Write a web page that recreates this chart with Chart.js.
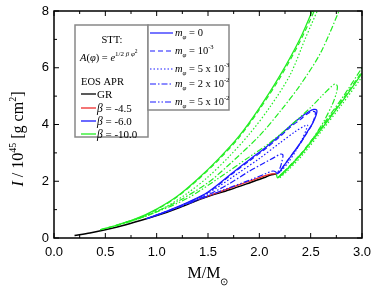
<!DOCTYPE html>
<html>
<head>
<meta charset="utf-8">
<script src="https://cdn.jsdelivr.net/npm/chart.js@4.4.0/dist/chart.umd.min.js"></script>
<style>
html, body { margin: 0; padding: 0; background: #fff; }
</style>
</head>
<body>
<canvas id="c" width="374" height="290"></canvas>
<script>
// axis ticks
const xTicks = [0, 0.5, 1.0, 1.5, 2.0, 2.5, 3.0];
const yTicks = [0, 2, 4, 6, 8];

// GR, EOS APR
const grM = [0.2, 0.35, 0.5, 0.7, 0.9, 1.1, 1.23, 1.45, 1.71, 1.91, 2.05, 2.1, 2.17];
const grI = [0.09, 0.18, 0.29, 0.47, 0.68, 0.91, 1.08, 1.4, 1.7, 1.95, 2.13, 2.21, 2.26];

// beta = -4.5
const redM = [1.4, 1.6, 1.8, 1.95, 2.05, 2.12, 2.16];
const redI = [1.35, 1.61, 1.87, 2.06, 2.19, 2.26, 2.26];

// beta = -6.0, one array pair per scalar mass
const blue0M = [0.9, 1.1, 1.3, 1.5, 1.74, 1.9, 2.07, 2.2, 2.3, 2.4, 2.48, 2.53, 2.56, 2.555, 2.52, 2.46, 2.4, 2.32, 2.25, 2.2, 2.17];
const blue0I = [0.68, 0.95, 1.25, 1.62, 2.3, 2.75, 3.22, 3.62, 3.95, 4.25, 4.45, 4.53, 4.5, 4.35, 4.05, 3.7, 3.35, 2.95, 2.6, 2.35, 2.26];
const blue1M = [0.9, 1.1, 1.3, 1.5, 1.74, 1.9, 2.07, 2.2, 2.3, 2.4, 2.47, 2.52, 2.545, 2.54, 2.51, 2.45, 2.39, 2.31, 2.24, 2.2, 2.17];
const blue1I = [0.68, 0.94, 1.24, 1.6, 2.27, 2.71, 3.17, 3.57, 3.9, 4.18, 4.38, 4.46, 4.43, 4.28, 3.98, 3.62, 3.28, 2.9, 2.56, 2.33, 2.26];
const blue2M = [0.95, 1.2, 1.5, 1.8, 2.0, 2.2, 2.35, 2.44, 2.47, 2.46, 2.42, 2.36, 2.28, 2.22, 2.17];
const blue2I = [0.74, 1.08, 1.58, 2.3, 2.8, 3.35, 3.75, 3.95, 3.98, 3.85, 3.5, 3.1, 2.65, 2.4, 2.26];
const blue3M = [1.0, 1.25, 1.5, 1.7, 1.9, 2.05, 2.15, 2.21, 2.23, 2.22, 2.2, 2.17];
const blue3I = [0.8, 1.13, 1.52, 1.9, 2.35, 2.65, 2.85, 2.96, 2.92, 2.7, 2.45, 2.26];
const blue4M = [1.3, 1.5, 1.7, 1.9, 2.05, 2.13, 2.16, 2.17];
const blue4I = [1.2, 1.48, 1.76, 2.03, 2.25, 2.36, 2.33, 2.26];

// beta = -10.0, left arm (leaves the frame at the top) and right arm
const green0M = [0.45, 0.6, 0.8, 1.0, 1.2, 1.4, 1.6, 1.8, 2.0, 2.2, 2.4, 2.55];
const green0I = [0.29, 0.44, 0.68, 1.02, 1.47, 2.08, 2.78, 3.58, 4.58, 5.72, 7.05, 8.3];
const green1M = [0.45, 0.6, 0.8, 1.0, 1.2, 1.4, 1.6, 1.8, 2.0, 2.2, 2.4, 2.56];
const green1I = [0.29, 0.44, 0.67, 1.0, 1.45, 2.05, 2.74, 3.53, 4.52, 5.64, 6.95, 8.2];
const green2M = [0.5, 0.7, 0.9, 1.1, 1.3, 1.5, 1.7, 1.9, 2.1, 2.3, 2.45, 2.6];
const green2I = [0.33, 0.53, 0.78, 1.12, 1.58, 2.15, 2.85, 3.65, 4.6, 5.75, 7.05, 8.3];
const green3M = [0.6, 0.9, 1.2, 1.5, 1.71, 2.0, 2.2, 2.4, 2.6, 2.8];
const green3I = [0.42, 0.78, 1.28, 1.95, 2.6, 3.6, 4.45, 5.4, 6.55, 8.2];
const green4M = [0.7, 1.0, 1.3, 1.6, 1.9, 2.1, 2.3, 2.5, 2.62, 2.7, 2.74, 2.76, 2.75, 2.71, 2.62, 2.52, 2.42, 2.32, 2.24, 2.19];
const green4I = [0.56, 0.92, 1.4, 2.1, 2.85, 3.35, 3.95, 4.6, 5.05, 5.33, 5.43, 5.35, 5.1, 4.7, 4.06, 3.5, 3.0, 2.6, 2.3, 2.14];

const green0RM = [2.165, 2.18, 2.25, 2.4, 2.6, 2.8, 3.0, 3.05];
const green0RI = [2.25, 2.12, 2.35, 2.92, 3.82, 4.78, 5.8, 6.05];
const green1RM = [2.18, 2.25, 2.4, 2.6, 2.8, 3.0, 3.05];
const green1RI = [2.13, 2.37, 2.95, 3.86, 4.83, 5.86, 6.1];
const green2RM = [2.2, 2.27, 2.42, 2.6, 2.8, 3.0, 3.05];
const green2RI = [2.12, 2.35, 2.92, 3.74, 4.68, 5.68, 5.95];
const green3RM = [2.2, 2.3, 2.45, 2.6, 2.8, 3.0, 3.05];
const green3RI = [2.2, 2.55, 3.15, 3.9, 4.9, 6.0, 6.3];

const BLUE = '#1a1aff';
const GREEN = '#22ee22';
const RED = '#ee2a2a';
const DASH = [[], [5, 3], [1.5, 2], [6, 2, 1.5, 2], [6, 2, 1.5, 2, 1.5, 2]];
const SERIF = '"Liberation Serif", "Times New Roman", serif';

function series(M, I, color, dash, width) {
    return {
        data: M.map((m, i) => ({ x: m, y: I[i] })),
        borderColor: color,
        borderDash: dash,
        borderWidth: width,
        showLine: true,
        pointRadius: 0,
        tension: 0.3,
        fill: false,
    };
}

// first dataset ends up on top
const datasets = [
    series(green0M, green0I, GREEN, DASH[0], 1.3),
    series(green1M, green1I, GREEN, DASH[1], 1.2),
    series(green2M, green2I, GREEN, DASH[2], 1.2),
    series(green3M, green3I, GREEN, DASH[3], 1.2),
    series(green4M, green4I, GREEN, DASH[4], 1.2),
    series(green0RM, green0RI, GREEN, DASH[0], 1.3),
    series(green1RM, green1RI, GREEN, DASH[1], 1.2),
    series(green2RM, green2RI, GREEN, DASH[2], 1.2),
    series(green3RM, green3RI, GREEN, DASH[3], 1.2),
    series(blue0M, blue0I, BLUE, DASH[0], 1.3),
    series(blue1M, blue1I, BLUE, DASH[1], 1.2),
    series(blue2M, blue2I, BLUE, DASH[2], 1.2),
    series(blue3M, blue3I, BLUE, DASH[3], 1.2),
    series(blue4M, blue4I, BLUE, DASH[4], 1.2),
    series(redM, redI, RED, DASH[0], 1.3),
    series(grM, grI, '#000', DASH[0], 1.5),
];

// draws a run of text pieces [text, font, dy]
function rich(ctx, x, y, parts, center) {
    let w = 0;
    parts.forEach((p) => { ctx.font = p[1]; w += ctx.measureText(p[0]).width; });
    let cx = center ? x - w / 2 : x;
    parts.forEach((p) => {
        ctx.font = p[1];
        ctx.fillText(p[0], cx, y + (p[2] || 0));
        cx += ctx.measureText(p[0]).width;
    });
}

function seg(ctx, x1, y1, x2, y2) {
    ctx.beginPath();
    ctx.moveTo(x1, y1);
    ctx.lineTo(x2, y2);
    ctx.stroke();
}

const framePlugin = {
    id: 'frame',
    afterDraw(chart) {
        const { ctx, chartArea: a, scales: { x, y } } = chart;
        ctx.save();
        ctx.strokeStyle = '#000';
        ctx.lineWidth = 1;
        // inward ticks on all four sides, minor halfway
        for (let k = 0; k <= 12; k++) {
            const px = x.getPixelForValue(k * 0.25);
            const len = k % 2 === 0 ? 5 : 3;
            seg(ctx, px, a.bottom, px, a.bottom - len);
            seg(ctx, px, a.top, px, a.top + len);
        }
        for (let k = 0; k <= 8; k++) {
            const py = y.getPixelForValue(k);
            const len = k % 2 === 0 ? 5 : 3;
            seg(ctx, a.left, py, a.left + len, py);
            seg(ctx, a.right, py, a.right - len, py);
        }
        ctx.lineWidth = 1.5;
        ctx.strokeRect(a.left, a.top, a.right - a.left, a.bottom - a.top);

        // legend boxes
        ctx.fillStyle = '#fff';
        ctx.strokeStyle = '#888';
        ctx.lineWidth = 1.5;
        ctx.fillRect(75, 25, 73, 112);
        ctx.strokeRect(75, 25, 73, 112);
        ctx.fillRect(148, 25, 81, 85);
        ctx.strokeRect(148, 25, 81, 85);

        ctx.fillStyle = '#000';
        ctx.textBaseline = 'alphabetic';
        const f = (s, it) => (it ? 'italic ' : '') + s + 'px ' + SERIF;
        rich(ctx, 112, 43, [['STT:', f(10.5)]], true);
        rich(ctx, 80, 61, [
            ['A', f(10.5, 1)], ['(', f(10.5)], ['φ', f(10.5, 1)], [') = ', f(10.5)], ['e', f(10.5, 1)],
            ['1/2 ', f(7), -5], ['β', f(7, 1), -5], [' φ', f(7, 1), -5], ['2', f(5.5), -8],
        ]);
        rich(ctx, 81, 85, [['EOS APR', f(10.5)]]);

        const rows1 = [
            ['#000', [['GR', f(11)]]],
            [RED, [['β', f(11.5, 1)], [' = -4.5', f(11)]]],
            [BLUE, [['β', f(11.5, 1)], [' = -6.0', f(11)]]],
            [GREEN, [['β', f(11.5, 1)], [' = -10.0', f(11)]]],
        ];
        rows1.forEach((r, i) => {
            const yy = [94, 108, 121, 134][i];
            ctx.strokeStyle = r[0];
            ctx.lineWidth = 1.3;
            seg(ctx, 81, yy, 96, yy);
            ctx.fillStyle = '#000';
            rich(ctx, 97, yy + 3.5, r[1]);
        });

        const mphi = [['m', f(10.5, 1)], ['φ', f(7, 1), 3]];
        const rows2 = [
            [[' = 0', f(10.5)]],
            [[' = 10', f(10.5)], ['-3', f(6.5), -5]],
            [[' = 5 x 10', f(10.5)], ['-3', f(6.5), -5]],
            [[' = 2 x 10', f(10.5)], ['-2', f(6.5), -5]],
            [[' = 5 x 10', f(10.5)], ['-2', f(6.5), -5]],
        ];
        rows2.forEach((r, i) => {
            const yy = [33, 51, 69, 84, 102][i];
            ctx.strokeStyle = BLUE;
            ctx.lineWidth = 1.2;
            ctx.setLineDash(DASH[i]);
            seg(ctx, 150, yy, 173, yy);
            ctx.setLineDash([]);
            ctx.fillStyle = '#000';
            rich(ctx, 175, yy + 3, mphi.concat(r));
        });

        // axis titles
        rich(ctx, (a.left + a.right) / 2, 278, [['M/M', f(16)], ['⊙', f(10), 7]], true);
        ctx.save();
        ctx.translate(23, 139);
        ctx.rotate(-Math.PI / 2);
        rich(ctx, 0, 0, [
            ['I', f(16, 1)], [' / 10', f(16)], ['45', f(10), -7], [' [g cm', f(16)], ['2', f(10), -7], [']', f(16)],
        ], true);
        ctx.restore();
        ctx.restore();
    },
};

Chart.defaults.color = '#000';
Chart.defaults.font.family = '"Liberation Sans", Arial, sans-serif';
Chart.defaults.font.size = 13;

new Chart(document.getElementById('c'), {
    type: 'scatter',
    data: { datasets },
    options: {
        responsive: false,
        animation: false,
        layout: { padding: { top: 11, right: 12, left: 0, bottom: 0 } },
        plugins: { legend: { display: false }, tooltip: { enabled: false } },
        scales: {
            x: {
                type: 'linear',
                min: xTicks[0],
                max: xTicks[xTicks.length - 1],
                afterFit: (s) => { s.height = 52; s.paddingLeft = 0; s.paddingRight = 0; },
                afterBuildTicks: (s) => { s.ticks = xTicks.map((v) => ({ value: v })); },
                grid: { display: false, drawTicks: false },
                border: { display: false },
                ticks: { padding: 7, callback: (v) => v.toFixed(1), maxRotation: 0 },
            },
            y: {
                type: 'linear',
                min: yTicks[0],
                max: yTicks[yTicks.length - 1],
                afterFit: (s) => { s.width = 54; s.paddingTop = 0; s.paddingBottom = 0; },
                afterBuildTicks: (s) => { s.ticks = yTicks.map((v) => ({ value: v })); },
                grid: { display: false, drawTicks: false },
                border: { display: false },
                ticks: { padding: 5, callback: (v) => String(v) },
            },
        },
    },
    plugins: [framePlugin],
});
</script>
</body>
</html>
